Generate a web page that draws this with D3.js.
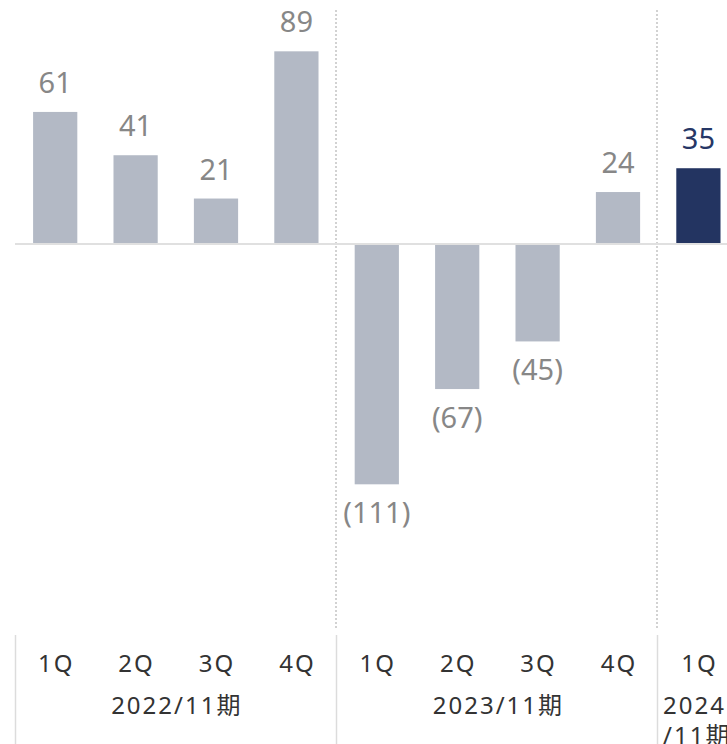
<!DOCTYPE html>
<html>
<head>
<meta charset="utf-8">
<script src="https://cdn.jsdelivr.net/npm/d3@7"></script>
<style>
  html, body { margin: 0; padding: 0; background: #fff; }
  svg { display: block; font-family: "Noto Sans", "Noto Sans CJK JP", sans-serif; }
</style>
</head>
<body>
<svg id="chart"></svg>
<script>
// quarters and fiscal years
const quarters = ["1Q", "2Q", "3Q", "4Q", "1Q", "2Q", "3Q", "4Q", "1Q"];
const fiscalYears = ["2022/11期", "2023/11期", "2024/11期"];
const yearOfBar = [0, 0, 0, 0, 1, 1, 1, 1, 2];
const values = [61, 41, 21, 89, -111, -67, -45, 24, 35];
const highlight = [false, false, false, false, false, false, false, false, true];

const width = 727;
const height = 744;

const svg = d3.select("#chart").attr("width", width).attr("height", height);

const ids = values.map((d, i) => i);

const x = d3.scaleBand()
  .domain(ids)
  .range([15, 15 + 80.4 * ids.length])
  .paddingInner(0.45)
  .paddingOuter(0.225);

const y = d3.scaleLinear()
  .domain([-120, 100])
  .range([244 + 120 * 2.165, 244 - 100 * 2.165]);

// separators between fiscal years (dotted above, solid in axis area)
const sepX = [x(4) - x.step() * 0.225, x(8) - x.step() * 0.225].map((d) => Math.round(d) - 1);

svg.selectAll(".sep")
  .data(sepX)
  .enter()
  .append("line")
  .attr("x1", (d) => d)
  .attr("x2", (d) => d)
  .attr("y1", 10)
  .attr("y2", 630)
  .attr("stroke", "#d2d2d2")
  .attr("stroke-width", 2)
  .attr("stroke-dasharray", "2,2");

svg.selectAll(".axsep")
  .data([15].concat(sepX))
  .enter()
  .append("line")
  .attr("x1", (d) => d + 0.5)
  .attr("x2", (d) => d + 0.5)
  .attr("y1", 635)
  .attr("y2", height)
  .attr("stroke", "#dcdcdc")
  .attr("stroke-width", 1.5);

// bars
svg.selectAll(".bar")
  .data(ids)
  .enter()
  .append("rect")
  .attr("x", (i) => x(i))
  .attr("width", x.bandwidth())
  .attr("y", (i) => y(Math.max(0, values[i])))
  .attr("height", (i) => Math.abs(y(values[i]) - y(0)))
  .attr("fill", (i) => (highlight[i] ? "#233461" : "#b3b9c5"));

// zero line
svg.append("line")
  .attr("x1", 15)
  .attr("x2", width)
  .attr("y1", y(0))
  .attr("y2", y(0))
  .attr("stroke", "#e0e0e0")
  .attr("stroke-width", 2);

// value labels
svg.selectAll(".val")
  .data(ids)
  .enter()
  .append("text")
  .attr("x", (i) => x(i) + x.bandwidth() / 2)
  .attr("y", (i) => (values[i] >= 0 ? y(values[i]) - 19 : y(values[i]) + 39))
  .attr("text-anchor", "middle")
  .attr("font-size", 29)
  .attr("fill", (i) => (highlight[i] ? "#263766" : "#878787"))
  .text((i) => (values[i] < 0 ? "(" + -values[i] + ")" : values[i]));

// quarter labels
svg.selectAll(".q")
  .data(ids)
  .enter()
  .append("text")
  .attr("x", (i) => x(i) + x.bandwidth() / 2 + 1)
  .attr("y", 672)
  .attr("text-anchor", "middle")
  .attr("font-size", 24)
  .attr("letter-spacing", 2)
  .attr("fill", "#333")
  .text((i) => quarters[i]);

// fiscal year labels
const yearCenters = fiscalYears.map((fy, k) => {
  const idx = ids.filter((i) => yearOfBar[i] === k);
  return (x(idx[0]) + x(idx[idx.length - 1]) + x.bandwidth()) / 2;
});

svg.selectAll(".fy")
  .data([0, 1])
  .enter()
  .append("text")
  .attr("x", (k) => yearCenters[k] + 1)
  .attr("y", 714)
  .attr("text-anchor", "middle")
  .attr("font-size", 24)
  .attr("letter-spacing", 2)
  .attr("fill", "#333")
  .text((k) => fiscalYears[k]);

// last year label wraps in its narrow column (cut at the edge, as in the source)
const lastFy = svg.append("text")
  .attr("font-size", 24)
  .attr("letter-spacing", 2)
  .attr("fill", "#333");
lastFy.append("tspan").attr("x", sepX[1] + 6).attr("y", 714).text(fiscalYears[2].slice(0, 4));
lastFy.append("tspan").attr("x", sepX[1] + 6).attr("y", 744).text(fiscalYears[2].slice(4));
</script>
</body>
</html>
